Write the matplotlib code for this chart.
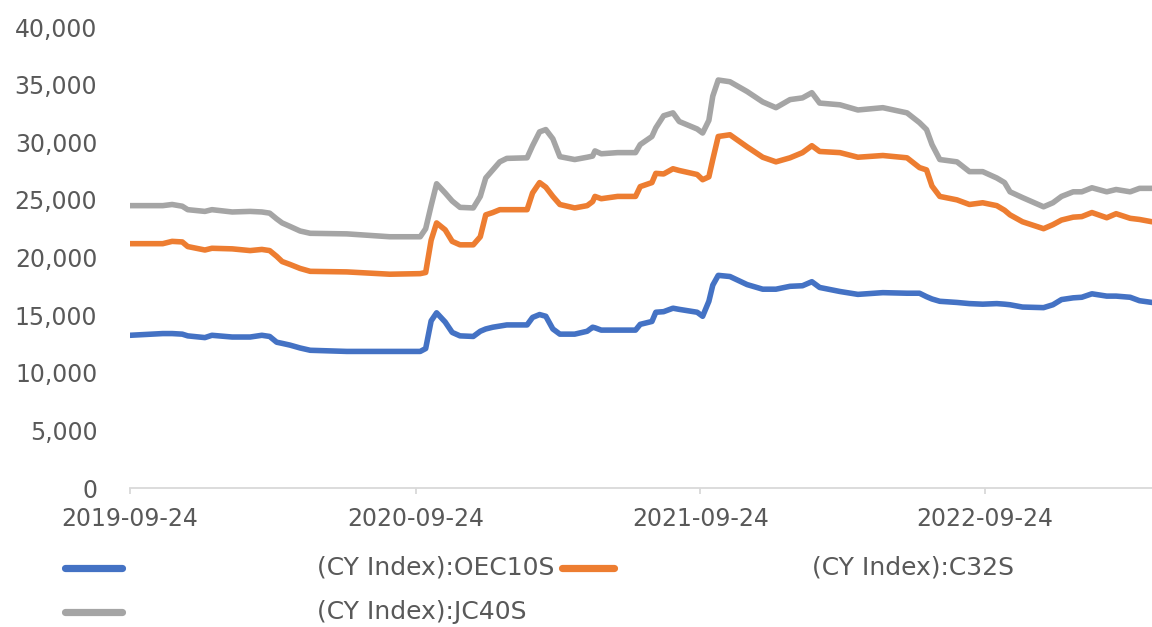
import matplotlib
matplotlib.use("Agg")
import matplotlib.pyplot as plt
import matplotlib.dates as mdates
from matplotlib.lines import Line2D
import pandas as pd

dates = ["2019-09-24", "2019-11-05", "2019-11-17", "2019-11-30", "2019-12-07", "2019-12-29",
         "2020-01-07", "2020-02-02", "2020-02-25", "2020-03-11", "2020-03-21", "2020-03-30",
         "2020-04-06", "2020-04-16", "2020-04-29", "2020-05-12", "2020-06-28", "2020-08-22",
         "2020-09-30", "2020-10-07", "2020-10-14", "2020-10-21", "2020-11-01", "2020-11-10",
         "2020-11-20", "2020-12-07", "2020-12-16", "2020-12-23", "2021-01-01", "2021-01-10",
         "2021-01-19", "2021-02-14", "2021-02-21", "2021-03-02", "2021-03-10", "2021-03-19",
         "2021-03-28", "2021-04-16", "2021-05-02", "2021-05-09", "2021-05-12", "2021-05-20",
         "2021-06-10", "2021-07-03", "2021-07-09", "2021-07-24", "2021-07-29", "2021-08-08",
         "2021-08-20", "2021-08-28", "2021-09-20", "2021-09-27", "2021-10-05", "2021-10-10",
         "2021-10-17", "2021-11-01", "2021-11-23", "2021-12-13", "2021-12-30", "2022-01-17",
         "2022-02-02", "2022-02-14", "2022-02-24", "2022-03-22", "2022-04-14", "2022-05-16",
         "2022-06-16", "2022-07-02", "2022-07-11", "2022-07-18", "2022-07-28", "2022-08-19",
         "2022-09-04", "2022-09-21", "2022-10-09", "2022-10-19", "2022-10-26", "2022-11-11",
         "2022-12-08", "2022-12-20", "2022-12-31", "2023-01-15", "2023-01-26", "2023-02-08",
         "2023-02-27", "2023-03-11", "2023-03-29", "2023-04-10", "2023-04-26"]

oec10s = [13250, 13400, 13400, 13350, 13200, 13050, 13250, 13100, 13100, 13250, 13150, 12650,
          12550, 12400, 12150, 11950, 11850, 11850, 11850, 12100, 14500, 15200, 14400, 13500,
          13200, 13150, 13600, 13800, 13950, 14050, 14150, 14150, 14800, 15050, 14900, 13800,
          13350, 13350, 13600, 13950, 13900, 13700, 13700, 13700, 14200, 14450, 15250, 15300,
          15600, 15500, 15250, 14900, 16200, 17600, 18450, 18350, 17650, 17250, 17250, 17500,
          17550, 17900, 17400, 17050, 16800, 16950, 16900, 16900, 16600, 16400, 16200, 16100,
          16000, 15950, 16000, 15950, 15900, 15700, 15650, 15900, 16350, 16500, 16550, 16850,
          16650, 16650, 16550, 16250, 16100]

c32s = [21200, 21200, 21400, 21350, 20950, 20650, 20800, 20750, 20600, 20700, 20600, 20100,
        19650, 19400, 19050, 18800, 18750, 18550, 18600, 18700, 21500, 23000, 22400, 21400,
        21100, 21100, 21800, 23700, 23900, 24150, 24150, 24150, 25600, 26500, 26100, 25300,
        24600, 24300, 24500, 24850, 25300, 25100, 25300, 25300, 26150, 26500, 27300, 27250,
        27700, 27550, 27200, 26750, 27000, 28500, 30500, 30650, 29600, 28700, 28300, 28650,
        29100, 29700, 29200, 29100, 28700, 28850, 28650, 27800, 27600, 26200, 25300, 25000,
        24600, 24750, 24500, 24100, 23700, 23100, 22500, 22850, 23250, 23500, 23550, 23900,
        23450, 23800, 23400, 23300, 23100]

jc40s = [24500, 24500, 24600, 24450, 24150, 24000, 24150, 23950, 24000, 23950, 23850, 23350,
         23000, 22700, 22300, 22100, 22050, 21800, 21800, 22500, 24500, 26400, 25600, 24900,
         24350, 24300, 25300, 26900, 27600, 28300, 28600, 28650, 29700, 30900, 31100, 30300,
         28750, 28500, 28700, 28800, 29250, 29000, 29100, 29100, 29800, 30500, 31250, 32300,
         32550, 31800, 31150, 30800, 31900, 34000, 35400, 35250, 34400, 33500, 33000, 33700,
         33850, 34300, 33400, 33250, 32800, 33000, 32550, 31700, 31100, 29800, 28500, 28300,
         27450, 27450, 26900, 26500, 25700, 25200, 24400, 24750, 25300, 25700, 25700, 26050,
         25700, 25900, 25700, 26000, 26000]

labels = ["(CY Index):OEC10S", "(CY Index):C32S", "(CY Index):JC40S"]
colors = ["#4472C4", "#ED7D31", "#A5A5A5"]
xtick_labels = ["2019-09-24", "2020-09-24", "2021-09-24", "2022-09-24"]
yticks = [0, 5000, 10000, 15000, 20000, 25000, 30000, 35000, 40000]
x_end = "2023-04-26"

TXT = "#595959"
FS = 17

x = pd.to_datetime(dates)
fig = plt.figure(figsize=(11.52, 6.27), dpi=100)
ax = fig.add_axes([130 / 1152, 139 / 627, 1022 / 1152, 461 / 627])

for series, c, lab in zip([oec10s, c32s, jc40s], colors, labels):
    ax.plot(x, series, color=c, lw=4.0, solid_joinstyle="round", solid_capstyle="round",
            label=lab, clip_on=True)

ax.set_xlim(pd.Timestamp(dates[0]), pd.Timestamp(x_end))
ax.set_ylim(0, 40000)
ax.set_yticks(yticks)
ax.set_yticklabels([f"{v:,}" for v in yticks])
ax.set_xticks(pd.to_datetime(xtick_labels))
ax.set_xticklabels(xtick_labels)

for s in ["top", "right", "left"]:
    ax.spines[s].set_visible(False)
ax.spines["bottom"].set_color("#d9d9d9")
ax.spines["bottom"].set_linewidth(1.3)
ax.tick_params(axis="y", length=0, pad=23.5, labelsize=FS, labelcolor=TXT)
ax.tick_params(axis="x", length=4, width=1.3, color="#d9d9d9", direction="out",
               pad=10, labelsize=FS, labelcolor=TXT)

# legend (drawn manually to mirror the reference layout)
W, H = 1152, 627
entries = [(0, 568, 65, 122, 317), (1, 568, 562, 614, 812), (2, 612, 65, 122, 317)]
for idx, yy, x0, x1, tx in entries:
    fig.add_artist(Line2D([x0 / W, x1 / W], [1 - yy / H, 1 - yy / H], transform=fig.transFigure,
                          color=colors[idx], lw=5.2, solid_capstyle="round"))
    fig.text(tx / W, 1 - yy / H, labels[idx], fontsize=18, color=TXT, va="center", ha="left")

fig.savefig("out.png", dpi=100)
